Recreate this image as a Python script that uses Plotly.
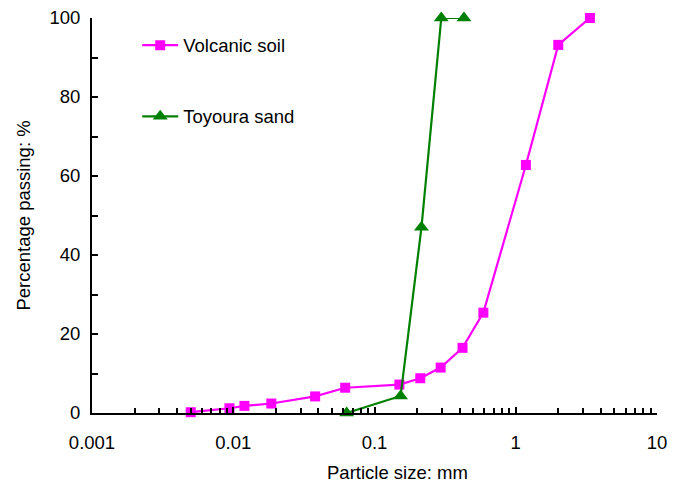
import plotly.graph_objects as go

# Data
volcanic_size = [0.005, 0.0094, 0.012, 0.0186, 0.038, 0.062, 0.15, 0.211, 0.294, 0.42, 0.59, 1.18, 2.0, 3.35]
volcanic_pass = [0.2, 1.2, 1.8, 2.4, 4.2, 6.4, 7.2, 8.8, 11.5, 16.5, 25.4, 62.8, 93.2, 100]
toyoura_size = [0.0635, 0.153, 0.215, 0.297, 0.43]
toyoura_pass = [0.0, 4.3, 47.0, 100, 100]

x_tickvals = [0.001, 0.01, 0.1, 1, 10]
x_ticktext = ["0.001", "0.01", "0.1", "1", "10"]
y_tickvals = [0, 20, 40, 60, 80, 100]

FONT = "Liberation Sans, Arial, sans-serif"
FS = 18.5

fig = go.Figure()
fig.add_trace(go.Scatter(
    x=volcanic_size, y=volcanic_pass, mode="lines+markers", name="Volcanic soil",
    line=dict(color="#FF00FF", width=2.2),
    marker=dict(symbol="square", size=10, color="#FF00FF"),
    cliponaxis=False, legend="legend",
))
fig.add_trace(go.Scatter(
    x=toyoura_size, y=toyoura_pass, mode="lines+markers", name="Toyoura sand",
    line=dict(color="#008000", width=2.2),
    marker=dict(symbol="triangle-up", size=13, color="#008000"),
    cliponaxis=False, legend="legend2",
))

fig.update_layout(
    width=683, height=482,
    margin=dict(l=92, r=26, t=18, b=69, autoexpand=False),
    paper_bgcolor="white", plot_bgcolor="white",
    font=dict(family=FONT, size=FS, color="black"),
    showlegend=True,
    legend=dict(x=0.080, y=0.93, xanchor="left", yanchor="middle",
                bgcolor="rgba(0,0,0,0)", font=dict(size=FS), itemwidth=36),
    legend2=dict(x=0.080, y=0.75, xanchor="left", yanchor="middle",
                 bgcolor="rgba(0,0,0,0)", font=dict(size=FS), itemwidth=36),
    xaxis=dict(
        type="log", range=[-3, 1], automargin=False,
        tickvals=x_tickvals, ticktext=x_ticktext,
        ticks="inside", ticklen=6, tickwidth=2, tickcolor="black",
        showline=True, linecolor="black", linewidth=2,
        showgrid=False, zeroline=False, mirror=False,
        ticklabelstandoff=12,
        minor=dict(ticks="inside", ticklen=5, tickwidth=2, tickcolor="black",
                   dtick="D1", showgrid=False),
        tickfont=dict(size=FS),
    ),
    yaxis=dict(
        range=[0, 100], tickvals=y_tickvals, automargin=False,
        ticks="inside", ticklen=6, tickwidth=2, tickcolor="black",
        showline=True, linecolor="black", linewidth=2,
        showgrid=False, zeroline=False,
        minor=dict(ticks="inside", ticklen=6, tickwidth=2, tickcolor="black",
                   dtick=10, showgrid=False),
        ticklabelstandoff=6,
        tickfont=dict(size=FS),
        title=dict(text="Percentage passing: %", font=dict(size=FS), standoff=14),
    ),
    annotations=[dict(
        text="Particle size: mm", xref="paper", yref="paper",
        x=0.54, y=0, yshift=-59, xanchor="center", yanchor="middle",
        showarrow=False, font=dict(size=FS),
    )],
)

fig.write_html("out.html", config={"displayModeBar": False},
               post_script="document.body.style.margin='0';")
